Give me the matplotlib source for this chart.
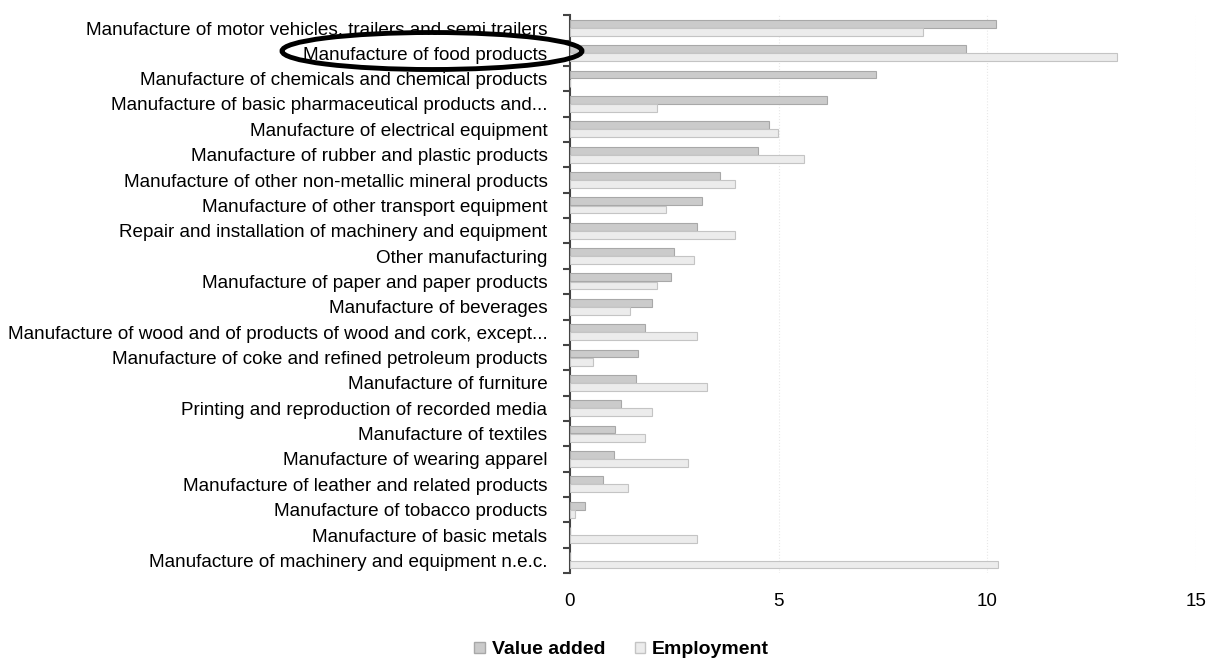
import numpy as np
import matplotlib
matplotlib.use('Agg')
import matplotlib.pyplot as plt
from matplotlib.patches import Ellipse, Patch

plt.rcParams['font.family'] = ['Liberation Sans', 'DejaVu Sans']

sectors = [
    'Manufacture of motor vehicles, trailers and semi trailers',
    'Manufacture of food products',
    'Manufacture of chemicals and chemical products',
    'Manufacture of basic pharmaceutical products and...',
    'Manufacture of electrical equipment',
    'Manufacture of rubber and plastic products',
    'Manufacture of other non-metallic mineral products',
    'Manufacture of other transport equipment',
    'Repair and installation of machinery and equipment',
    'Other manufacturing',
    'Manufacture of paper and paper products',
    'Manufacture of beverages',
    'Manufacture of wood and of products of wood and cork, except...',
    'Manufacture of coke and refined petroleum products',
    'Manufacture of furniture',
    'Printing and reproduction of recorded media',
    'Manufacture of textiles',
    'Manufacture of wearing apparel',
    'Manufacture of leather and related products',
    'Manufacture of tobacco products',
    'Manufacture of basic metals',
    'Manufacture of machinery and equipment n.e.c.',
]
value_added = [10.2, 9.5, 7.34, 6.15, 4.78, 4.5, 3.61, 3.18, 3.04, 2.49, 2.42,
               1.98, 1.81, 1.63, 1.6, 1.22, 1.08, 1.05, 0.79, 0.36, 0, 0]
employment = [8.47, 13.1, 0, 2.08, 4.98, 5.62, 3.97, 2.3, 3.97, 2.97, 2.1,
              1.45, 3.06, 0.55, 3.3, 1.98, 1.81, 2.83, 1.39, 0.12, 3.06, 10.26]

fig = plt.figure(figsize=(12.12, 6.61), dpi=100)
ax = fig.add_axes([0.470, 0.133, 0.517, 0.844])

y = np.arange(len(sectors))
h = 0.31
ax.barh(y - 0.16, value_added, height=h, color='#cbcbcb', edgecolor='#a8a8a8',
        linewidth=0.8, label='Value added', zorder=3)
ax.barh(y + 0.16, employment, height=h, color='#ececec', edgecolor='#c4c4c4',
        linewidth=0.8, label='Employment', zorder=3)

ax.set_xlim(0, 15)
ax.set_ylim(len(sectors) - 0.5, -0.5)
ax.set_xticks([0, 5, 10, 15])
ax.set_yticks(y)
ax.set_yticklabels(sectors, fontsize=13.6)
ax.set_yticks(np.arange(len(sectors) + 1) - 0.5, minor=True)
ax.tick_params(axis='y', which='major', length=0, pad=16)
ax.tick_params(axis='y', which='minor', length=5, width=1.5, color='#444444', direction='out')
ax.tick_params(axis='x', length=0, labelsize=13.5, pad=14)

for s in ['top', 'right', 'bottom']:
    ax.spines[s].set_visible(False)
ax.spines['left'].set_color('#444444')
ax.spines['left'].set_linewidth(1.5)

ax.xaxis.grid(True, linestyle=':', color='#e8e8e8', linewidth=0.8, zorder=0)

# highlight ring around the food products label
ell = Ellipse((432 / 1212, 1 - 51 / 661), 300 / 1212, 37 / 661,
              transform=fig.transFigure, fill=False, edgecolor='black', linewidth=3.5)
fig.patches.append(ell)

handles = [Patch(facecolor='#cbcbcb', edgecolor='#a8a8a8', label='Value added'),
           Patch(facecolor='#ececec', edgecolor='#c4c4c4', label='Employment')]
fig.legend(handles=handles, loc='center', bbox_to_anchor=(0.513, 0.017), ncol=2,
           frameon=False, handlelength=0.55, handleheight=0.55, handletextpad=0.35,
           columnspacing=1.5, prop={'weight': 'bold', 'size': 14})

fig.savefig('out.png', dpi=100)
